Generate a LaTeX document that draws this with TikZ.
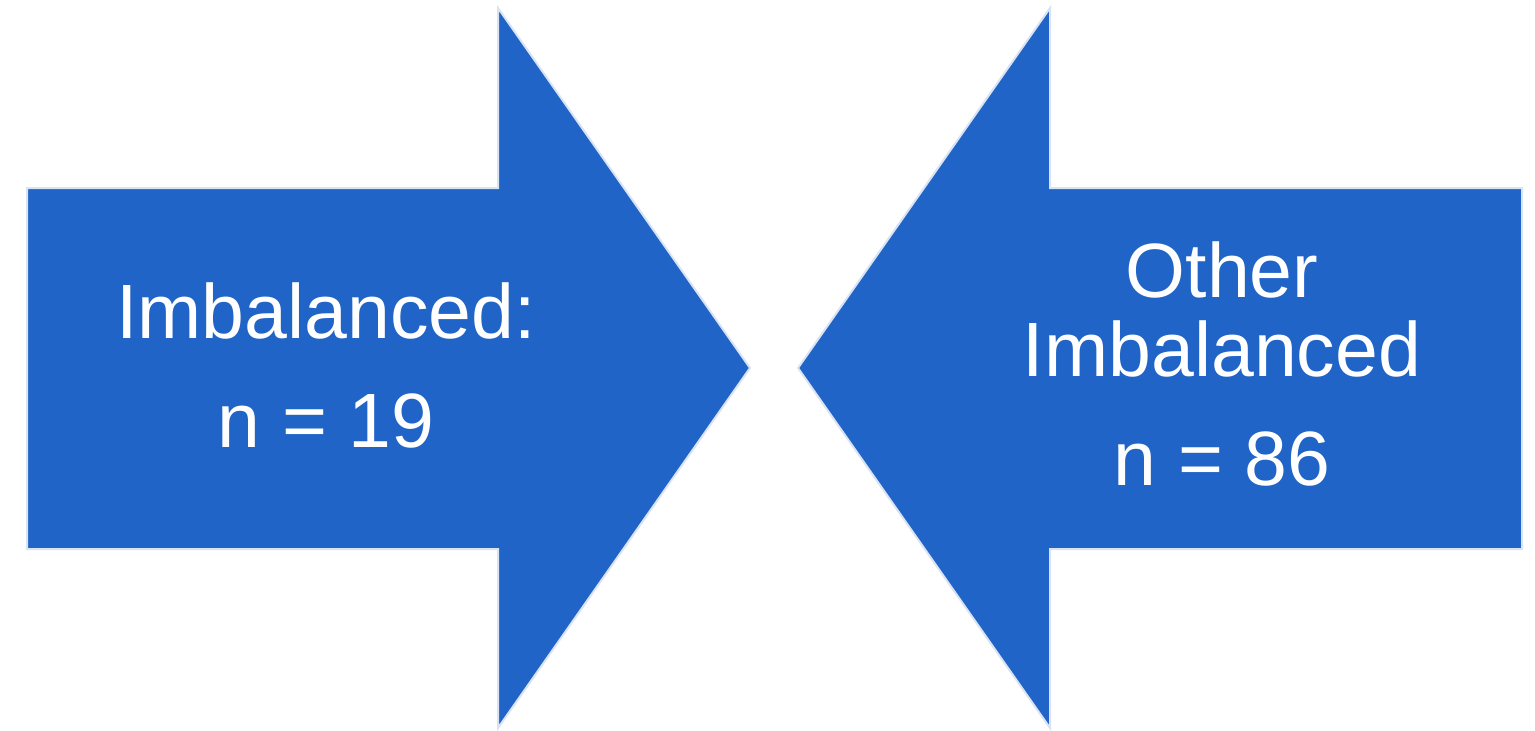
\documentclass[tikz,border=0pt]{standalone}
\usepackage{fontspec}
\setmainfont{Liberation Sans}
\definecolor{arrowblue}{RGB}{32,100,200}
\definecolor{edgeblue}{RGB}{218,227,243}
\begin{document}
\begin{tikzpicture}[x=1pt,y=-1pt,
  blockarrow/.style={fill=arrowblue,draw=edgeblue,line width=2pt,line join=miter},
  label/.style={text=white,align=center,font=\fontsize{77}{79}\selectfont,inner sep=0pt}]
\useasboundingbox (0,0) rectangle (1535,731);
% left arrow
\draw[blockarrow] (27,188) -- (498,188) -- (498,8) -- (750,368) -- (498,728) -- (498,549) -- (27,549) -- cycle;
% right arrow
\draw[blockarrow] (1522,188) -- (1050,188) -- (1050,8) -- (798,368) -- (1050,728) -- (1050,549) -- (1522,549) -- cycle;
\node[label] (left) at (326,365) {Imbalanced:\\[30pt]n = 19};
\node[label] (right) at (1222,364) {Other\\Imbalanced\\[30pt]n = 86};
\end{tikzpicture}
\end{document}
